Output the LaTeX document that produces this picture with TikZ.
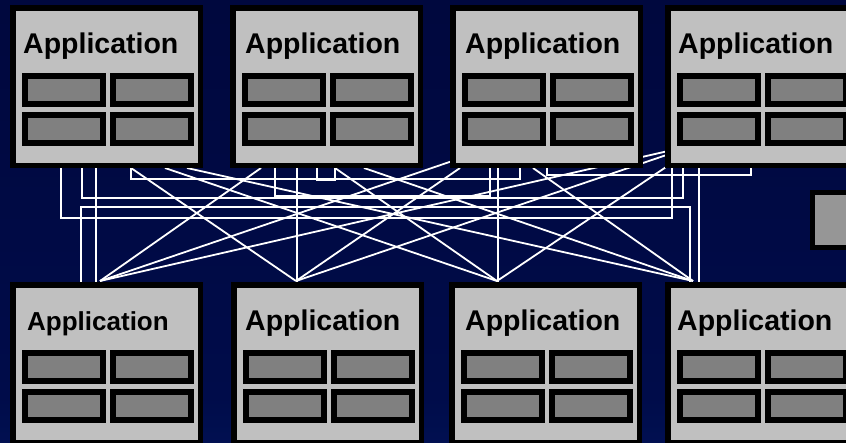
\documentclass[tikz,border=0pt]{standalone}
\usepackage{fontspec}
\setmainfont{Liberation Sans}
\usetikzlibrary{calc}

\definecolor{bgtop}{RGB}{0,5,55}
\definecolor{bgmid}{RGB}{0,12,74}
\definecolor{bgbot}{RGB}{4,34,116}
\definecolor{face}{RGB}{192,192,192}
\definecolor{slotgray}{RGB}{128,128,128}
\definecolor{portgray}{RGB}{150,150,150}

\pgfdeclareverticalshading{bgshade}{100bp}{%
  color(0bp)=(bgbot); color(30bp)=(bgmid); color(100bp)=(bgtop)}

\tikzset{
  appframe/.style={fill=black, inner sep=0pt, minimum width=193pt, minimum height=163pt},
  appface/.style={fill=face, inner sep=0pt, minimum width=182pt, minimum height=152pt},
  slot/.style={draw=black, line width=6pt, fill=slotgray, inner sep=0pt,
               minimum width=78pt, minimum height=28pt},
  apptext/.style={inner sep=0pt, anchor=base west, text=black},
  wire/.style={draw=white, line width=1.8pt},
}

% one application box: name, left, top, font size, text offset
\newcommand{\drawapp}[5]{%
  \begin{scope}[shift={(#2,#3)}]
    \node[appframe] (#1) at (96.5,81.5) {};
    \node[appface] (#1-face) at (96.5,81.5) {};
    \node[apptext] (#1-text) at (#5,48)
      {\fontsize{#4}{#4}\selectfont\bfseries Application};
    \node[slot] (#1-s1) at (54,85) {};
    \node[slot] (#1-s2) at (142,85) {};
    \node[slot] (#1-s3) at (54,124) {};
    \node[slot] (#1-s4) at (142,124) {};
  \end{scope}}

\begin{document}
\begin{tikzpicture}[x=1pt,y=-1pt]
  \useasboundingbox (0,0) rectangle (846,442);
  \shade[shading=bgshade] (0,0) rectangle (846,442);

  % attachment points on the lower edge of the upper row
  \coordinate (t1a) at (61,168);  \coordinate (t1b) at (82,168);
  \coordinate (t1c) at (96,168);  \coordinate (t1d) at (131,168);
  \coordinate (t1e) at (165,168); \coordinate (t1f) at (187,168);
  \coordinate (t2a) at (261,168); \coordinate (t2b) at (275,168);
  \coordinate (t2c) at (297,168); \coordinate (t2d) at (317,168);
  \coordinate (t2e) at (335,168); \coordinate (t2f) at (364,168);
  \coordinate (t3a) at (470,155); \coordinate (t3b) at (460,168);
  \coordinate (t3c) at (490,168); \coordinate (t3d) at (498,168);
  \coordinate (t3e) at (520,168); \coordinate (t3f) at (533,168);
  \coordinate (t3g) at (547,168);
  \coordinate (t4a) at (690,146); \coordinate (t4b) at (690,147);
  \coordinate (t4c) at (675,161); \coordinate (t4d) at (672,168);
  \coordinate (t4e) at (683,168); \coordinate (t4f) at (699,168);
  \coordinate (t4g) at (751,168);
  % attachment points on the upper edge of the lower row
  \coordinate (b1a) at (81,282);  \coordinate (b1b) at (96,282);
  \coordinate (b1c) at (100,281);
  \coordinate (b2c) at (296,281); \coordinate (b2b) at (297,282);
  \coordinate (b3c) at (497,281); \coordinate (b3b) at (498,282);
  \coordinate (b4a) at (690,282); \coordinate (b4c) at (693,281);
  \coordinate (b4b) at (699,282);

  % straight links between the rows
  \draw[wire] (t1c) -- (b1b);
  \draw[wire] (t2c) -- (b2b);
  \draw[wire] (t3d) -- (b3b);
  \draw[wire] (t4f) -- (b4b);
  \draw[wire] (t1d) -- (b2c);
  \draw[wire] (t1e) -- (b3c);
  \draw[wire] (t1f) -- (b4c);
  \draw[wire] (t2a) -- (b1c);
  \draw[wire] (t2e) -- (b3c);
  \draw[wire] (t2f) -- (b4c);
  \draw[wire] (t3a) -- (b1c);
  \draw[wire] (t3b) -- (b2c);
  \draw[wire] (t3f) -- (b4c);
  \draw[wire] (t4a) -- (b1c);
  \draw[wire] (t4b) -- (b2c);
  \draw[wire] (t4c) -- (b3c);

  % routed links along a row
  \draw[wire] (t1a) -- ++(0,50) -| (t4d);
  \draw[wire] (t1b) -- ++(0,30) -| (t4e);
  \draw[wire] (b1a) -- ++(0,-75) -| (b4a);
  \draw[wire] (t1d) -- ++(0,11) -| (t3e);
  \draw[wire] (t2d) -- ++(0,12) -| (t2e);
  \draw[wire] (t2b) -- ++(0,28) -| (t3c);
  \draw[wire] (t3g) -- ++(0,7) -| (t4g);

  % application boxes
  \drawapp{t1}{10}{5}{28.5}{13}
  \drawapp{t2}{230}{5}{28.5}{15}
  \drawapp{t3}{450}{5}{28.5}{15}
  \drawapp{t4}{665}{5}{28.5}{13}
  \drawapp{b1}{10}{282}{26}{17}
  \drawapp{b2}{231}{282}{28.5}{14}
  \drawapp{b3}{449}{282}{28.5}{16}
  \drawapp{b4}{665}{282}{28.5}{12}

  % small box at the right edge
  \node[draw=black, line width=5pt, fill=portgray, inner sep=0pt,
        minimum width=60pt, minimum height=55pt, anchor=north west]
        (port) at (809.5,189.5) {};
\end{tikzpicture}
\end{document}
